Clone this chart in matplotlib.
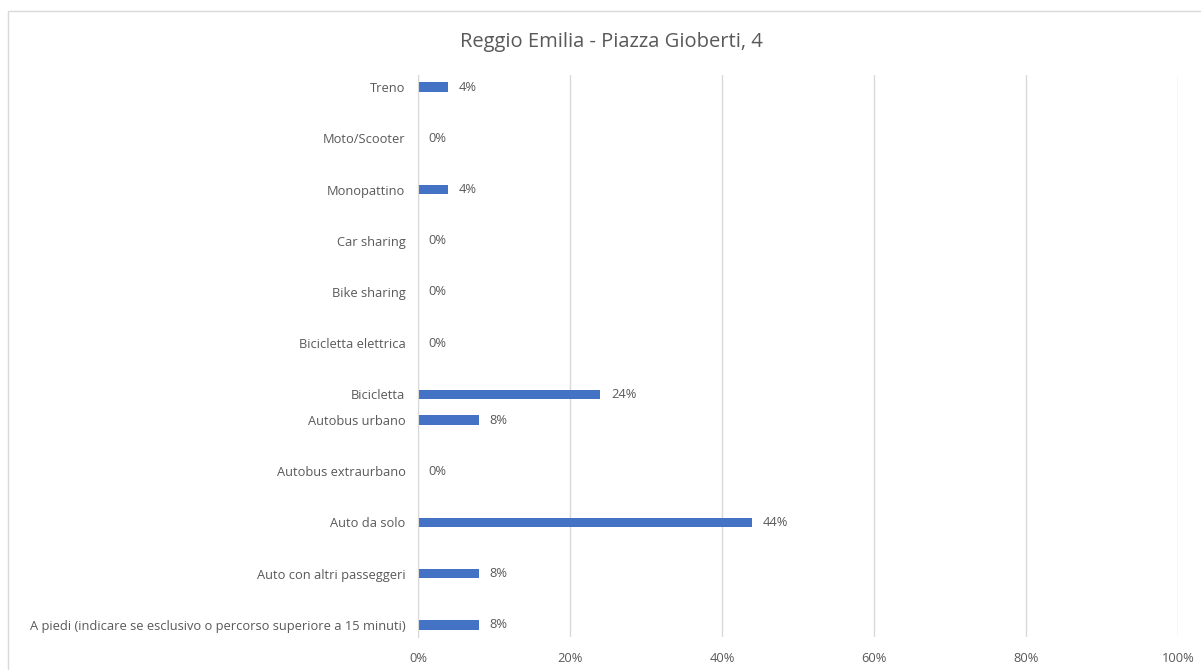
import matplotlib
matplotlib.use("Agg")
import matplotlib.pyplot as plt
from matplotlib.patches import Rectangle
from matplotlib.ticker import PercentFormatter

TITLE = "Reggio Emilia - Piazza Gioberti, 4"

# bottom to top, as drawn
CATEGORIES = [
    "A piedi (indicare se esclusivo o percorso superiore a 15 minuti)",
    "Auto con altri passeggeri",
    "Auto da solo",
    "Autobus extraurbano",
    "Autobus urbano",
    "Bicicletta",
    "Bicicletta elettrica",
    "Bike sharing",
    "Car sharing",
    "Monopattino",
    "Moto/Scooter",
    "Treno",
]
VALUES = [8, 8, 44, 0, 8, 24, 0, 0, 0, 4, 0, 4]
# the source chart leaves only half a row between "Autobus urbano" and "Bicicletta"
ROW_STEPS = [0, 2, 2, 2, 2, 1, 2, 2, 2, 2, 2, 2]

BAR_COLOR = "#4472C4"
TEXT_COLOR = "#595959"
GRID_COLOR = "#D9D9D9"
LABEL_SIZE = 9.3

plt.rcParams["font.family"] = ["Open Sans", "DejaVu Sans"]

rows = []
pos = 0
for step in ROW_STEPS:
    pos += step
    rows.append(pos)

fig = plt.figure(figsize=(12.01, 6.70), dpi=100)
fig.patches.append(Rectangle((8 / 1201, -0.1), 1.2, 1 - 11 / 670 + 0.1,
                             transform=fig.transFigure, fill=False,
                             edgecolor="#D9D9D9", linewidth=1))

ax = fig.add_axes([418 / 1201, 33 / 670, 760 / 1201, 562 / 670])
ax.barh(rows, VALUES, height=0.36, color=BAR_COLOR)

for y, v in zip(rows, VALUES):
    ax.text(v + 1.4, y, f"{v}%", va="center", ha="left",
            fontsize=LABEL_SIZE, color=TEXT_COLOR)

ax.set_xlim(0, 100)
ax.set_ylim(rows[0] - 0.47, rows[-1] + 0.47)
ax.set_xticks(range(0, 101, 20))
ax.xaxis.set_major_formatter(PercentFormatter(decimals=0))
ax.set_yticks(rows, labels=CATEGORIES)
ax.tick_params(axis="both", length=0, labelsize=LABEL_SIZE, labelcolor=TEXT_COLOR)
ax.tick_params(axis="x", pad=11)
ax.tick_params(axis="y", pad=9)
ax.grid(axis="x", color=GRID_COLOR, linewidth=1)
ax.set_axisbelow(True)
for side in ["top", "right", "bottom"]:
    ax.spines[side].set_visible(False)
ax.spines["left"].set_color(GRID_COLOR)

fig.text(611 / 1201, 1 - 42 / 670, TITLE, ha="center", va="center",
         fontsize=14.5, color=TEXT_COLOR)

fig.savefig("out.png", dpi=100)
